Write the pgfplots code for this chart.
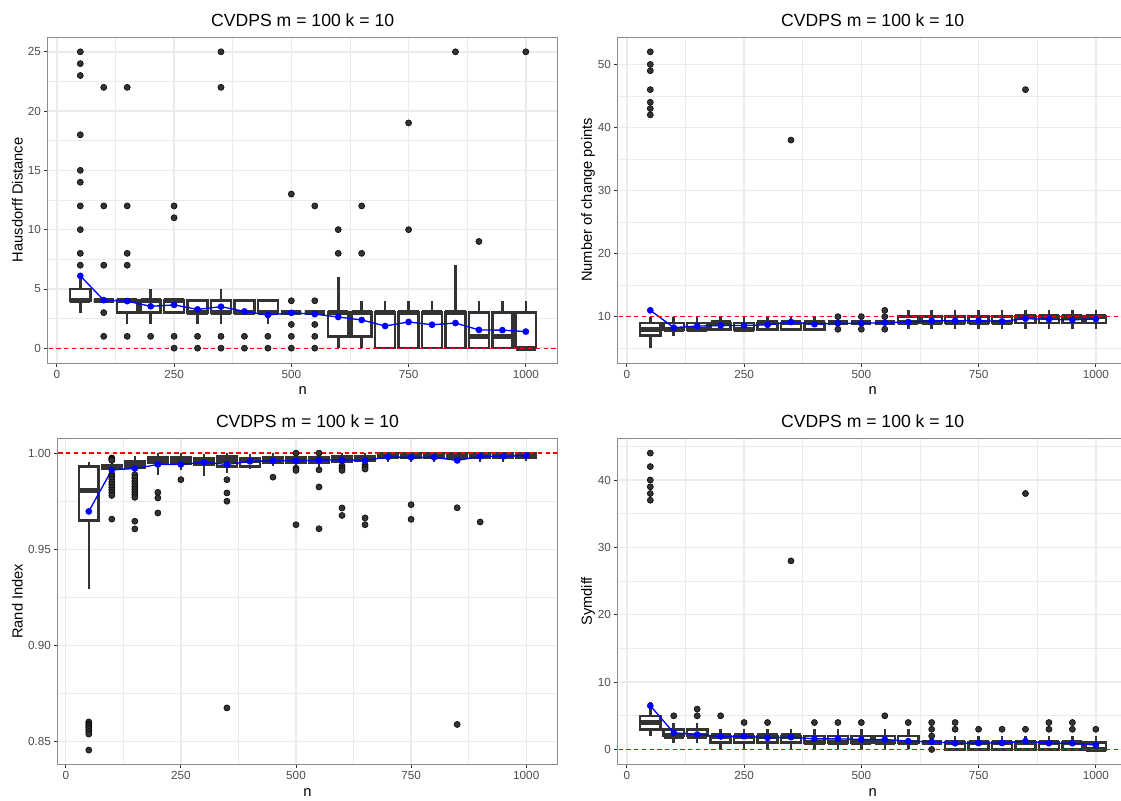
\documentclass[border=0pt]{standalone}
\usepackage{pgfplots}
\pgfplotsset{compat=1.18}
\usepackage{fontspec}
\setmainfont{Liberation Sans}
\definecolor{c33}{HTML}{333333}
\definecolor{c4d}{HTML}{4D4D4D}
\definecolor{cgrid}{HTML}{EBEBEB}
\definecolor{cborder}{HTML}{8C8C8C}
\pgfplotsset{
  panel/.style={
    scale only axis, anchor=south west, clip=true,
    tick align=outside, tick pos=left,
    major tick length=2.75pt, minor tick length=0pt,
    grid=both,
    major grid style={cgrid, line width=1.07pt},
    minor grid style={cgrid, line width=0.53pt},
    axis line style={cborder, line width=0.6pt},
    tick style={c33, line width=0.6pt},
    tick label style={font=\fontsize{8.8}{10}\selectfont, text=c4d},
    yticklabel style={inner sep=0pt, xshift=-2.2pt},
    xticklabel style={inner sep=0pt, yshift=-2.2pt},
    xtick={0,250,500,750,1000}, minor xtick={125,375,625,875},
    /pgf/number format/assume math mode=true,
    /pgf/number format/1000 sep={},
    scaled ticks=false,
    title={CVDPS m = 100 k = 10},
    title style={font=\fontsize{13.2}{15}\selectfont, at={(axis description cs:0.5,1)}, anchor=base, yshift=2pt},
    xlabel={n},
    xlabel style={font=\fontsize{11}{13}\selectfont, at={(axis description cs:0.5,0)}, anchor=base, yshift=-24pt},
    ylabel style={font=\fontsize{11}{13}\selectfont, anchor=base},
  },
  bl/.style={draw=c33, line width=1.9pt, line join=miter},
  meanl/.style={color=blue, line width=1pt, mark=*, mark size=2pt, mark options={fill=blue, draw=none}},
  refl/.style={draw=red, line width=1pt, dash pattern=on 3.2pt off 2.6pt},
}
% #1 position, #2 lower whisker, #3 lower quartile, #4 median, #5 upper quartile, #6 upper whisker, #7 outliers (0,y)...
\newcommand{\bx}[7]{%
  \pgfmathsetmacro{\xa}{#1-21.5}\pgfmathsetmacro{\xb}{#1+21.5}%
  \addplot[bl] coordinates {(#1,#2)(#1,#3)};
  \addplot[bl] coordinates {(#1,#5)(#1,#6)};
  \addplot[bl, fill=white] coordinates {(\xa,#3)(\xb,#3)(\xb,#5)(\xa,#5)} -- cycle;
  \addplot[draw=c33, line width=3.8pt] coordinates {(\xa,#4)(\xb,#4)};
  \if\relax\detokenize{#7}\relax\else
  \addplot[only marks, mark=*, mark size=2.3pt, mark options={fill=c33, draw=none}, x filter/.expression={#1}] coordinates {#7};
  \fi
}
\begin{document}
\begin{tikzpicture}
\useasboundingbox (0,0) rectangle (840.75pt,600pt);
% ---------------- Panel 1
\begin{axis}[panel, at={(35.78pt,327.75pt)}, width=382.5pt, height=244.5pt,
  xmin=-19.5, xmax=1068, ymin=-1.25, ymax=26.25,
  ytick={0,5,...,25}, minor ytick={2.5,7.5,...,22.5},
  ylabel={Hausdorff Distance}, ylabel style={at={(axis description cs:-0.049,0.5)}}]
\bx{50}{3}{4}{4}{5}{6}{(0,25)(0,24)(0,23)(0,18)(0,15)(0,14)(0,12)(0,10)(0,8)(0,7)}
\bx{100}{4}{4}{4}{4}{4}{(0,22)(0,12)(0,7)(0,3)(0,1)}
\bx{150}{2}{3}{4}{4}{4}{(0,22)(0,12)(0,8)(0,7)(0,1)}
\bx{200}{2}{3}{4}{4}{5}{(0,1)}
\bx{250}{3}{3}{4}{4}{4}{(0,12)(0,11)(0,1)(0,0)}
\bx{300}{2}{3}{3}{4}{4}{(0,1)(0,0)}
\bx{350}{2}{3}{3}{4}{5}{(0,25)(0,22)(0,1)(0,0)}
\bx{400}{3}{3}{3}{4}{4}{(0,1)(0,0)}
\bx{450}{2}{3}{3}{4}{4}{(0,1)(0,0)}
\bx{500}{3}{3}{3}{3}{3}{(0,13)(0,4)(0,2)(0,1)(0,0)}
\bx{550}{3}{3}{3}{3}{3}{(0,12)(0,4)(0,2)(0,1)(0,0)}
\bx{600}{0}{1}{3}{3}{6}{(0,10)(0,8)}
\bx{650}{0}{1}{3}{3}{4}{(0,12)(0,8)}
\bx{700}{0}{0}{3}{3}{4}{}
\bx{750}{0}{0}{3}{3}{4}{(0,19)(0,10)}
\bx{800}{0}{0}{3}{3}{4}{}
\bx{850}{0}{0}{3}{3}{7}{(0,25)}
\bx{900}{0}{0}{1}{3}{4}{(0,9)}
\bx{950}{0}{0}{1}{3}{4}{}
\bx{1000}{0}{0}{0}{3}{4}{(0,25)}
\addplot[meanl] coordinates {(50,6.1)(100,4.05)(150,3.97)(200,3.53)(250,3.65)(300,3.27)(350,3.5)(400,3.1)(450,2.8)(500,2.98)(550,2.87)(600,2.63)(650,2.38)(700,1.87)(750,2.21)(800,1.98)(850,2.12)(900,1.54)(950,1.52)(1000,1.4)};
\addplot[refl] coordinates {(-100,0)(1200,0)};
\end{axis}
% ---------------- Panel 2
\begin{axis}[panel, at={(463.28pt,327.75pt)}, width=382.5pt, height=244.5pt,
  xmin=-19.5, xmax=1068, ymin=2.65, ymax=54.35,
  ytick={10,20,...,50}, minor ytick={5,15,...,45},
  ylabel={Number of change points}, ylabel style={at={(axis description cs:-0.0505,0.5)}}]
\bx{50}{5}{7}{8}{9}{10}{(0,52)(0,50)(0,49)(0,46)(0,44)(0,43)(0,42)}
\bx{100}{7}{8}{8}{9}{10}{}
\bx{150}{8}{8}{8}{9}{10}{}
\bx{200}{8}{8}{9}{9}{10}{}
\bx{250}{8}{8}{8}{9}{10}{}
\bx{300}{8}{8}{9}{9}{10}{}
\bx{350}{8}{8}{9}{9}{10}{(0,38)}
\bx{400}{8}{8}{9}{9}{10}{}
\bx{450}{9}{9}{9}{9}{9}{(0,10)(0,8)}
\bx{500}{9}{9}{9}{9}{9}{(0,10)(0,8)}
\bx{550}{9}{9}{9}{9}{9}{(0,11)(0,10)(0,8)}
\bx{600}{8}{9}{9}{10}{11}{}
\bx{650}{8}{9}{9}{10}{11}{}
\bx{700}{8}{9}{9}{10}{11}{}
\bx{750}{8}{9}{9}{10}{11}{}
\bx{800}{8}{9}{9}{10}{11}{}
\bx{850}{8}{9}{10}{10}{11}{(0,46)}
\bx{900}{8}{9}{10}{10}{11}{}
\bx{950}{8}{9}{10}{10}{11}{}
\bx{1000}{8}{9}{10}{10}{11}{}
\addplot[meanl] coordinates {(50,11)(100,8.27)(150,8.5)(200,8.6)(250,8.6)(300,8.7)(350,9.15)(400,8.8)(450,8.95)(500,8.95)(550,9.05)(600,9.15)(650,9.35)(700,9.35)(750,9.35)(800,9.26)(850,9.68)(900,9.58)(950,9.5)(1000,9.62)};
\addplot[refl] coordinates {(-100,10)(1200,10)};
\end{axis}
% ---------------- Panel 3
\begin{axis}[panel, at={(43.28pt,26.78pt)}, width=374.7pt, height=244.5pt,
  xmin=-17.5, xmax=1067.5, ymin=0.8383, ymax=1.0077,
  ytick={0.85,0.90,0.95,1.00}, minor ytick={0.875,0.925,0.975},
  yticklabel style={/pgf/number format/.cd, fixed, fixed zerofill, precision=2},
  ylabel={Rand Index}, ylabel style={at={(axis description cs:-0.070,0.5)}}]
\bx{50}{0.9294}{0.965}{0.9806}{0.9931}{0.9953}{(0,0.8603)(0,0.8594)(0,0.8585)(0,0.8575)(0,0.8565)(0,0.8553)(0,0.8540)(0,0.8457)}
\bx{100}{0.9905}{0.9920}{0.9928}{0.9938}{0.9952}{(0,0.9975)(0,0.9968)(0,0.9962)(0,0.9890)(0,0.9878)(0,0.9865)(0,0.9850)(0,0.9836)(0,0.9822)(0,0.9808)(0,0.9795)(0,0.9780)(0,0.9657)}
\bx{150}{0.9915}{0.9922}{0.9935}{0.9957}{0.9985}{(0,0.9888)(0,0.9872)(0,0.9855)(0,0.9840)(0,0.9826)(0,0.9812)(0,0.9798)(0,0.9784)(0,0.9770)(0,0.9646)(0,0.9606)}
\bx{200}{0.9888}{0.9952}{0.9965}{0.9979}{0.9998}{(0,0.9796)(0,0.9767)(0,0.9689)}
\bx{250}{0.9913}{0.9945}{0.9965}{0.9979}{0.9998}{(0,0.9862)}
\bx{300}{0.988}{0.994}{0.996}{0.9974}{0.9995}{}
\bx{350}{0.9895}{0.9931}{0.996}{0.9983}{0.9998}{(0,0.9862)(0,0.9793)(0,0.975)(0,0.8676)}
\bx{400}{0.9915}{0.9931}{0.996}{0.9974}{0.9995}{}
\bx{450}{0.9935}{0.9950}{0.997}{0.9979}{0.9998}{(0,0.9875)}
\bx{500}{0.993}{0.995}{0.997}{0.998}{0.9993}{(0,1.0)(0,0.9922)(0,0.9910)(0,0.9628)}
\bx{550}{0.993}{0.995}{0.997}{0.998}{0.9993}{(0,1.0)(0,0.9913)(0,0.9824)(0,0.9607)}
\bx{600}{0.9945}{0.9957}{0.997}{0.9983}{0.9998}{(0,0.9934)(0,0.9922)(0,0.9910)(0,0.9715)(0,0.9676)}
\bx{650}{0.9952}{0.9962}{0.9975}{0.9986}{0.9998}{(0,0.9939)(0,0.9927)(0,0.9917)(0,0.9663)(0,0.9628)}
\bx{700}{0.9955}{0.9974}{0.999}{1.0}{1.0}{}
\bx{750}{0.9955}{0.9974}{0.999}{1.0}{1.0}{(0,0.9732)(0,0.9656)}
\bx{800}{0.9955}{0.9974}{0.999}{1.0}{1.0}{}
\bx{850}{0.9955}{0.9974}{0.999}{1.0}{1.0}{(0,0.9716)(0,0.859)}
\bx{900}{0.9955}{0.9974}{0.9993}{0.9998}{1.0}{(0,0.9642)}
\bx{950}{0.9955}{0.9974}{0.9993}{0.9998}{1.0}{}
\bx{1000}{0.996}{0.9976}{0.9995}{1.0}{1.0}{}
\addplot[meanl] coordinates {(50,0.9697)(100,0.9913)(150,0.992)(200,0.9941)(250,0.9941)(300,0.9953)(350,0.9941)(400,0.9957)(450,0.996)(500,0.996)(550,0.9963)(600,0.9965)(650,0.9962)(700,0.998)(750,0.9978)(800,0.9978)(850,0.9962)(900,0.9983)(950,0.9983)(1000,0.9988)};
\addplot[refl] coordinates {(-100,1)(1200,1)};
\end{axis}
% ---------------- Panel 4
\begin{axis}[panel, at={(463.28pt,26.78pt)}, width=382.5pt, height=244.5pt,
  xmin=-19.5, xmax=1068, ymin=-2.2, ymax=46.2,
  ytick={0,10,...,40}, minor ytick={5,15,...,45},
  ylabel={Symdiff}, ylabel style={at={(axis description cs:-0.0505,0.5)}}]
\bx{50}{2}{3}{4}{5}{7}{(0,44)(0,42)(0,40)(0,39)(0,38)(0,37)}
\bx{100}{1}{2}{2}{3}{4}{(0,5)}
\bx{150}{1}{2}{2}{3}{4}{(0,6)(0,5)}
\bx{200}{0}{1}{2}{2}{3}{(0,5)}
\bx{250}{0}{1}{2}{2}{3}{(0,4)}
\bx{300}{0}{1}{2}{2}{3}{(0,4)}
\bx{350}{0}{1}{2}{2}{3}{(0,28)}
\bx{400}{0}{1}{1}{2}{3}{(0,4)}
\bx{450}{0}{1}{1}{2}{3}{(0,4)}
\bx{500}{0}{1}{1}{2}{3}{(0,4)}
\bx{550}{0}{1}{1}{2}{3}{(0,5)}
\bx{600}{0}{1}{1}{2}{3}{(0,4)}
\bx{650}{1}{1}{1}{1}{1}{(0,4)(0,3)(0,2)(0,0)}
\bx{700}{0}{0}{1}{1}{2}{(0,4)(0,3)}
\bx{750}{0}{0}{1}{1}{2}{(0,3)}
\bx{800}{0}{0}{1}{1}{2}{(0,3)}
\bx{850}{0}{0}{1}{1}{2}{(0,38)(0,3)}
\bx{900}{0}{0}{1}{1}{2}{(0,4)(0,3)}
\bx{950}{0}{0}{1}{1}{2}{(0,4)(0,3)}
\bx{1000}{0}{0}{0}{1}{2}{(0,3)}
\addplot[meanl] coordinates {(50,6.5)(100,2.47)(150,2.22)(200,1.93)(250,1.95)(300,1.73)(350,1.83)(400,1.58)(450,1.58)(500,1.48)(550,1.48)(600,1.24)(650,1.13)(700,0.92)(750,0.95)(800,0.95)(850,1.24)(900,0.93)(950,0.93)(1000,0.65)};
\addplot[refl] coordinates {(-100,0)(1200,0)};
\end{axis}
\end{tikzpicture}
\end{document}
